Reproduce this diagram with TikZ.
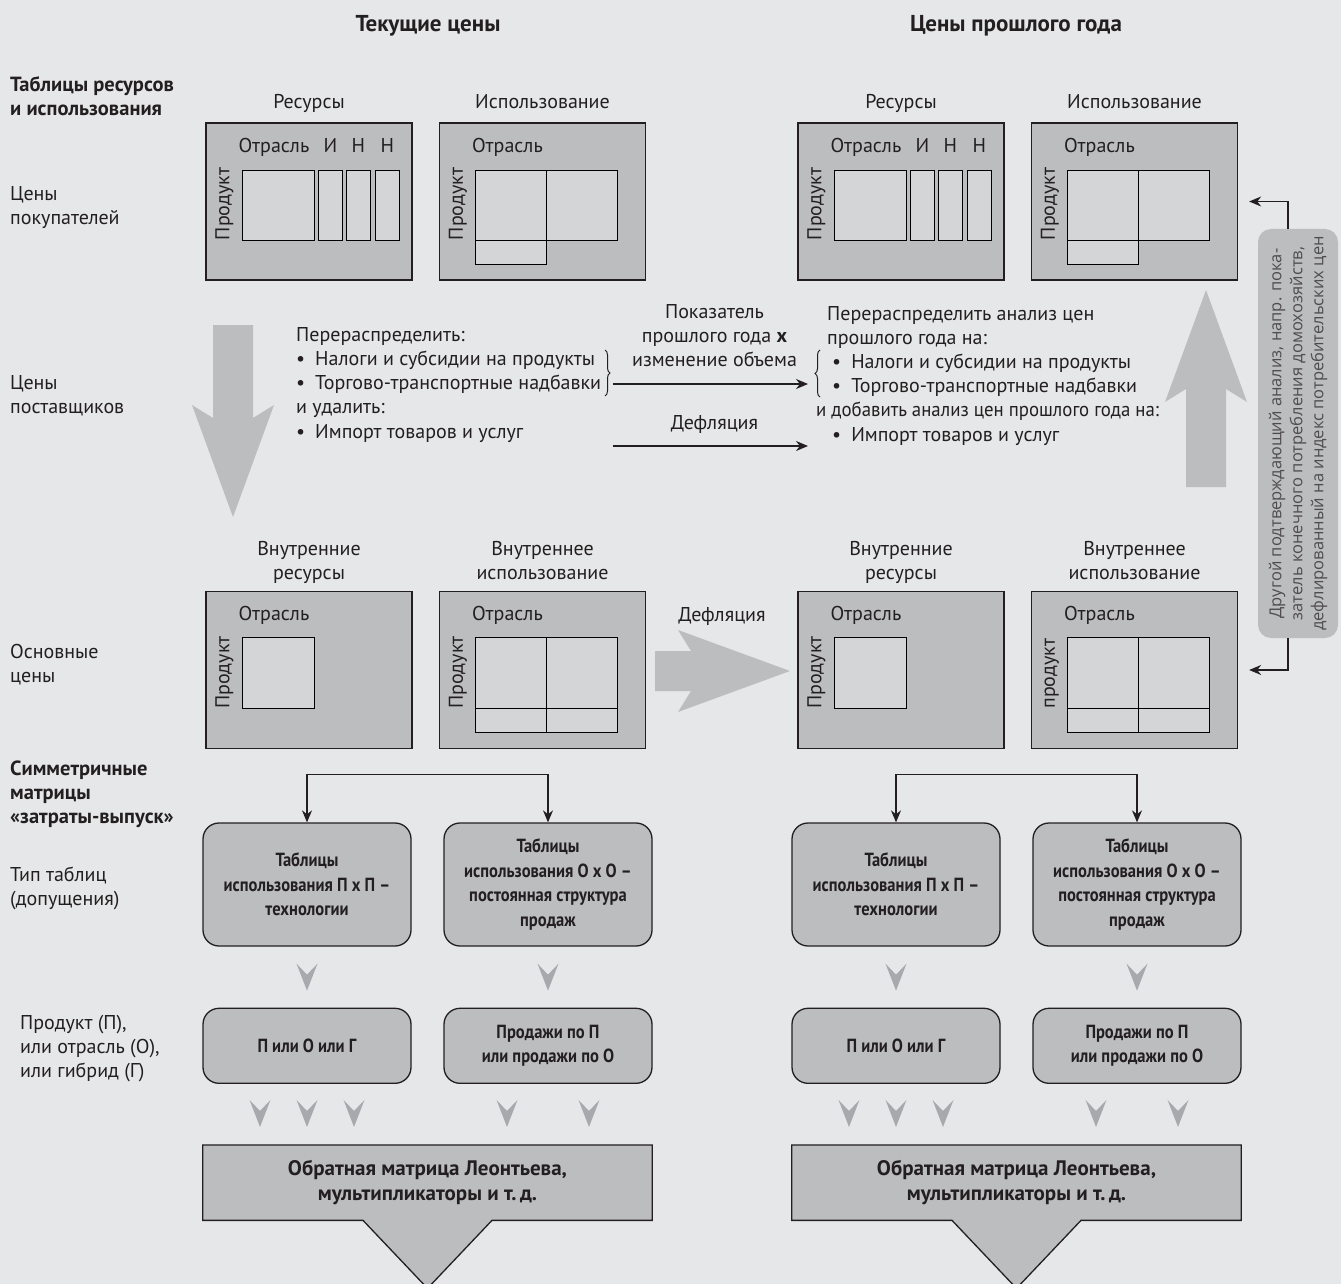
\documentclass[tikz,border=0pt]{standalone}
\usepackage{fontspec}
\setmainfont{PT Sans}
\newfontfamily\condfont[FakeStretch=0.87]{PT Sans}
\newfontfamily\tightfont[FakeStretch=0.94]{PT Sans}
\newfontfamily\notefont{Open Sans}
\usetikzlibrary{positioning,arrows.meta,calc,backgrounds,decorations.pathreplacing}
\definecolor{pagegray}{RGB}{230,231,232}
\definecolor{boxgray}{RGB}{188,189,191}
\definecolor{cellgray}{RGB}{212,213,215}
\definecolor{tipgray}{RGB}{167,169,172}
\definecolor{ink}{RGB}{35,31,32}
\newcommand{\bul}{\textbullet\hspace{0.5em}}
\tikzset{
  txt/.style  = {inner sep=0pt, text=ink, align=left,
                 font=\fontsize{20}{24}\selectfont},
  rowbf/.style = {txt, font=\fontsize{20.5}{24}\selectfont\bfseries},
  ttl/.style  = {txt, font=\fontsize{23}{26}\selectfont\bfseries},
  tbl/.style  = {rectangle, draw=ink, fill=boxgray, line width=1.3pt,
                 minimum width=206pt, minimum height=157pt},
  cell/.style = {draw=black, fill=cellgray, line width=1.1pt},
  rbox/.style = {rectangle, draw=ink, fill=boxgray, rounded corners=16pt,
                 line width=1.3pt, minimum width=208pt, align=center,
                 text=ink, font=\condfont\fontsize{19}{24.5}\selectfont\bfseries},
  leon/.style = {rectangle, text=ink, align=center, inner sep=0pt,
                 minimum width=449pt, minimum height=75pt,
                 font=\fontsize{21}{25}\selectfont\bfseries},
  callbox/.style = {draw=ink, fill=boxgray, line width=1.3pt},
  note/.style = {rectangle, fill=boxgray, rounded corners=13pt, rotate=90,
                 minimum width=409pt, minimum height=80pt, align=center,
                 text=ink!80, font=\notefont\fontsize{16.5}{21}\selectfont},
  arr/.style  = {-{Stealth[length=12pt,width=10pt]}, line width=1.2pt, draw=ink},
  brc/.style  = {decorate, decoration={brace, amplitude=5pt}, line width=1pt, draw=ink},
  pics/bigarrow/.style = {code={
    \fill[boxgray] (0,-20) -- (#1-99,-20) -- (#1-112,-41) -- (#1,0)
      -- (#1-112,41) -- (#1-99,20) -- (0,20) -- cycle;}},
  pics/vtip/.style = {code={
    \fill[tipgray] (-10.5,0) -- (0,11) -- (10.5,0) -- (0,27) -- cycle;}}
}
\begin{document}
\begin{tikzpicture}[x=1pt,y=-1pt]
\useasboundingbox (0,0) rectangle (1341,1284);
\begin{scope}[on background layer]
  \fill[pagegray] (0,0) rectangle (1341,1284);
\end{scope}

\node[ttl, anchor=base] (curT) at (428,32) {Текущие цены};
\node[ttl, anchor=base] (prevT) at (1016,32) {Цены прошлого года};

\node[rowbf, anchor=base west] (rowSUT) at (10,116) {Таблицы ресурсов\\и использования};
\node[txt, anchor=base west] (rowPP) at (10,225) {Цены\\покупателей};
\node[txt, anchor=base west] (rowSP) at (10,413) {Цены\\поставщиков};
\node[txt, anchor=base west] (rowBP) at (10,682) {Основные\\цены};
\node[rowbf, anchor=base west] (rowIO) at (10,823) {Симметричные\\матрицы\\«затраты-выпуск»};
\node[txt, anchor=base west] (rowTT) at (10,905) {Тип таблиц\\(допущения)};
\node[txt, anchor=base west] (rowPI) at (20,1077) {Продукт (П),\\или отрасль (О),\\или гибрид (Г)};

\foreach \c/\dx/\bx/\pr in {L/0/0/Продукт,R/592/589/продукт}{
  \node[tbl] (sup\c) at (309+\dx,201.5) {};
  \node[tbl] (use\c) at (542.5+\dx,201.5) {};
  \node[tbl] (dsup\c) at (309+\dx,670) {};
  \node[tbl] (duse\c) at (542.5+\dx,670) {};
  \node[txt, anchor=base] (supH\c) at ($(sup\c.north)+(0,-14)$) {Ресурсы};
  \node[txt, anchor=base] (useH\c) at ($(use\c.north)+(0,-14)$) {Использование};
  \node[txt, anchor=base, align=center] (dsupH\c) at ($(dsup\c.north)+(0,-11)$) {Внутренние\\ресурсы};
  \node[txt, anchor=base, align=center] (duseH\c) at ($(duse\c.north)+(0,-11)$) {Внутреннее\\использование};

  \draw[cell] ($(sup\c.north west)+(37,48)$) rectangle ++(72,70);
  \foreach \u in {113,141,170}
    \draw[cell] ($(sup\c.north west)+(\u,48)$) rectangle ++(24,70);
  \node[txt, anchor=base west] (supB\c) at ($(sup\c.north west)+(33,30)$) {Отрасль};
  \node[txt, anchor=base] (supI\c) at ($(sup\c.north west)+(125,30)$) {И};
  \node[txt, anchor=base] (supN\c) at ($(sup\c.north west)+(153,30)$) {Н};
  \node[txt, anchor=base] (supM\c) at ($(sup\c.north west)+(182,30)$) {Н};
  \node[txt, rotate=90, anchor=base west] (supP\c) at ($(sup\c.north west)+(24,118)$) {Продукт};

  \draw[cell] ($(use\c.north west)+(37,48)$) rectangle ++(71,70);
  \draw[cell] ($(use\c.north west)+(108,48)$) rectangle ++(71,70);
  \draw[cell] ($(use\c.north west)+(37,118)$) rectangle ++(71,24);
  \node[txt, anchor=base west] (useB\c) at ($(use\c.north west)+(33,30)$) {Отрасль};
  \node[txt, rotate=90, anchor=base west] (useP\c) at ($(use\c.north west)+(24,118)$) {Продукт};

  \draw[cell] ($(dsup\c.north west)+(37,47)$) rectangle ++(72,71);
  \node[txt, anchor=base west] (dsupB\c) at ($(dsup\c.north west)+(33,30)$) {Отрасль};
  \node[txt, rotate=90, anchor=base west] (dsupP\c) at ($(dsup\c.north west)+(24,118)$) {Продукт};

  \draw[cell] ($(duse\c.north west)+(37,47)$) rectangle ++(71,71);
  \draw[cell] ($(duse\c.north west)+(108,47)$) rectangle ++(71,71);
  \draw[cell] ($(duse\c.north west)+(37,118)$) rectangle ++(71,24);
  \draw[cell] ($(duse\c.north west)+(108,118)$) rectangle ++(71,24);
  \node[txt, anchor=base west] (duseB\c) at ($(duse\c.north west)+(33,30)$) {Отрасль};
  \node[txt, rotate=90, anchor=base west] (duseP\c) at ($(duse\c.north west)+(24,118)$) {\pr};

  \node[rbox, minimum height=123pt] (tech\c) at (307+\bx,884.5) {Таблицы\\использования П x П –\\технологии};
  \node[rbox, minimum height=123pt] (sales\c) at (548+\bx,884.5) {Таблицы\\использования О x О –\\постоянная структура\\продаж};
  \node[rbox, minimum height=75pt, below=61pt of tech\c] (mix\c) {П или О или Г};
  \node[rbox, minimum height=75pt, below=61pt of sales\c] (by\c) {Продажи по П\\или продажи по О};
  \coordinate (fork\c) at ($(tech\c.north)!0.5!(sales\c.north)+(0,-48)$);
  \draw[arr] (fork\c) -| (tech\c);
  \draw[arr] (fork\c) -| (sales\c);
  \pic at ($(tech\c.south)+(0,17)$) {vtip};
  \pic at ($(sales\c.south)+(0,17)$) {vtip};
  \foreach \u in {-47,0,47}
    \pic at ($(mix\c.south)+(\u,16)$) {vtip};
  \foreach \u in {-41,41}
    \pic at ($(by\c.south)+(\u,16)$) {vtip};

  \coordinate (mid\c) at ($(mix\c.south)!0.5!(by\c.south)$);
  \node[leon, below=61pt of mid\c] (leon\c) {Обратная матрица Леонтьева,\\мультипликаторы и т.\,д.};
  \begin{scope}[on background layer]
    \draw[callbox] (leon\c.north west) -- (leon\c.north east) -- (leon\c.south east)
      -- ($(leon\c.south)+(64.5,0)$) -- ($(leon\c.south)+(0,68)$)
      -- ($(leon\c.south)+(-64.5,0)$) -- (leon\c.south west) -- cycle;
  \end{scope}
}

\pic[rotate=-90] at (233,325) {bigarrow=192};
\pic at (655,671) {bigarrow=135};
\pic[rotate=90] at (1206,487) {bigarrow=197};
\node[txt, anchor=base] (defBig) at (722,621) {Дефляция};

\node[txt, anchor=base west] (redist) at (296,341) {Перераспределить:};
\node[txt, anchor=base west] (taxL) at ($(redist.base west)+(0,24)$) {\bul Налоги и субсидии на продукты};
\node[txt, anchor=base west] (tradeL) at ($(taxL.base west)+(0,24)$) {\bul Торгово-транспортные надбавки};
\node[txt, anchor=base west] (remove) at ($(tradeL.base west)+(0,24)$) {и удалить:};
\node[txt, anchor=base west] (impL) at ($(remove.base west)+(0,25)$) {\bul Импорт товаров и услуг};
\draw[brc] (605,350) -- (605,396);

\node[txt, anchor=base west] (redistR) at (827,344) {Перераспределить анализ цен\\прошлого года на:};
\node[txt, anchor=base west] (taxR) at (832,368) {\bul Налоги и субсидии на продукты};
\node[txt, anchor=base west] (tradeR) at ($(taxR.base west)+(0,24)$) {\bul Торгово-транспортные надбавки};
\node[txt, anchor=base west, font=\tightfont\fontsize{20}{24}\selectfont] (addR) at (816,416) {и добавить анализ цен прошлого года на:};
\node[txt, anchor=base west] (impR) at (832,441) {\bul Импорт товаров и услуг};
\draw[brc] (820,397) -- (820,350);

\coordinate (volS) at (613,384);
\coordinate (volE) at (808,384);
\coordinate (defS) at (613,446);
\coordinate (defE) at (808,446);
\draw[arr] (volS) -- (volE);
\draw[arr] (defS) -- (defE);
\node[txt, anchor=base, align=center] (volLab) at ($(volS)!0.5!(volE)+(4,-18)$) {Показатель\\прошлого года \textbf{x}\\изменение объема};
\node[txt, anchor=base] (defLab) at ($(defS)!0.5!(defE)+(4,-17)$) {Дефляция};

\node[note] (note) at (1298,433.5) {Другой подтверждающий анализ, напр. пока-\\затель конечного потребления домохозяйств,\\дефлированный на индекс потребительских цен};
\draw[arr, shorten >=11pt] ($(note.east)+(-10,0)$) |- (useR.east);
\draw[arr, shorten >=11pt] ($(note.west)+(-10,0)$) |- (duseR.east);
\end{tikzpicture}
\end{document}
